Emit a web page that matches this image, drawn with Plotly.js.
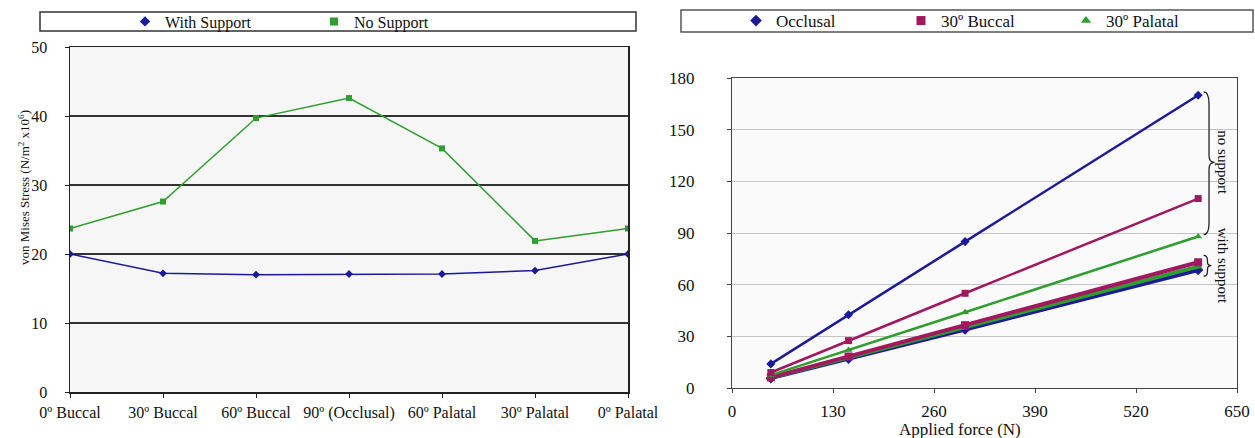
<!DOCTYPE html>
<html>
<head>
<meta charset="utf-8">
<script src="https://cdn.plot.ly/plotly-3.0.1.min.js"></script>
<style>html,body{margin:0;padding:0;background:#fff;}#chart{width:1255px;height:438px;}</style>
</head>
<body>
<div id="chart"></div>
<script>
// ---- Left chart data ----
const angleLabels = ["0º Buccal", "30º Buccal", "60º Buccal", "90º (Occlusal)", "60º Palatal", "30º Palatal", "0º Palatal"];
const angleIndex = [0, 1, 2, 3, 4, 5, 6];
const withSupport = [20.0, 17.2, 17.0, 17.1, 17.1, 17.6, 20.0];
const noSupport = [23.7, 27.6, 39.7, 42.6, 35.3, 21.9, 23.7];

// ---- Right chart data ----
const appliedForce = [50, 150, 300, 600];
const occlusalNo = [14, 42.5, 85, 170];
const buccalNo = [9, 27.5, 55, 110];
const palatalNo = [7.5, 22, 44, 88];
const occlusalWith = [5.7, 17, 34, 68.5];
const buccalWith = [6.2, 18.3, 36.5, 73];
const palatalWith = [6.0, 17.7, 35.3, 70.5];
const forceTicks = [0, 130, 260, 390, 520, 650];

const BLUE = "#1a1a9a", GREEN = "#2e9e2e", MAG = "#a1185e";
const W = 1255, H = 438;
const px = v => v / W, py = v => 1 - v / H;
const FONT = "Liberation Serif, Times New Roman, serif";

const traces = [
  // left
  {x: angleIndex, y: noSupport, mode: "lines+markers", xaxis: "x", yaxis: "y", showlegend: false,
   line: {color: GREEN, width: 1.5}, marker: {symbol: "square", size: 6, color: GREEN}},
  {x: angleIndex, y: withSupport, mode: "lines+markers", xaxis: "x", yaxis: "y", showlegend: false,
   line: {color: BLUE, width: 1.5}, marker: {symbol: "diamond", size: 6, color: BLUE}},
  // left legend entries
  {x: [null], y: [null], mode: "markers", name: "With Support", xaxis: "x", yaxis: "y", legend: "legend",
   marker: {symbol: "diamond", size: 8, color: BLUE}},
  {x: [null], y: [null], mode: "markers", name: "No Support", xaxis: "x", yaxis: "y", legend: "legend",
   marker: {symbol: "square", size: 8, color: GREEN}},
  // right - with support (thicker)
  {x: appliedForce, y: occlusalWith, mode: "lines+markers", xaxis: "x2", yaxis: "y2", showlegend: false,
   line: {color: BLUE, width: 4}, marker: {symbol: "diamond", size: 8, color: BLUE}},
  {x: appliedForce, y: palatalWith, mode: "lines+markers", xaxis: "x2", yaxis: "y2", showlegend: false,
   line: {color: GREEN, width: 4}, marker: {symbol: "triangle-up", size: 8, color: GREEN}},
  {x: appliedForce, y: buccalWith, mode: "lines+markers", xaxis: "x2", yaxis: "y2", showlegend: false,
   line: {color: MAG, width: 4}, marker: {symbol: "square", size: 8, color: MAG}},
  // right - no support
  {x: appliedForce, y: palatalNo, mode: "lines+markers", xaxis: "x2", yaxis: "y2", showlegend: false,
   line: {color: GREEN, width: 2.5}, marker: {symbol: "triangle-up", size: 7, color: GREEN}},
  {x: appliedForce, y: buccalNo, mode: "lines+markers", xaxis: "x2", yaxis: "y2", showlegend: false,
   line: {color: MAG, width: 2.5}, marker: {symbol: "square", size: 7, color: MAG}},
  {x: appliedForce, y: occlusalNo, mode: "lines+markers", xaxis: "x2", yaxis: "y2", showlegend: false,
   line: {color: BLUE, width: 2.5}, marker: {symbol: "diamond", size: 7, color: BLUE}},
  // right legend entries
  {x: [null], y: [null], mode: "markers", name: "Occlusal", xaxis: "x2", yaxis: "y2", legend: "legend2",
   marker: {symbol: "diamond", size: 9, color: BLUE}},
  {x: [null], y: [null], mode: "markers", name: "30º Buccal", xaxis: "x2", yaxis: "y2", legend: "legend2",
   marker: {symbol: "square", size: 9, color: MAG}},
  {x: [null], y: [null], mode: "markers", name: "30º Palatal", xaxis: "x2", yaxis: "y2", legend: "legend2",
   marker: {symbol: "triangle-up", size: 9, color: GREEN}}
];

const layout = {
  width: W, height: H,
  margin: {l: 0, r: 0, t: 0, b: 0, autoexpand: false},
  paper_bgcolor: "#ffffff",
  plot_bgcolor: "rgba(0,0,0,0)",
  font: {family: FONT, size: 14, color: "#111"},
  xaxis: {
    domain: [px(70), px(628)], range: [0, 6], anchor: "y",
    tickvals: angleIndex, ticktext: angleLabels,
    showgrid: false, zeroline: false, showline: true, linecolor: "#222", linewidth: 1.5, mirror: true,
    ticks: "outside", ticklen: 4, tickcolor: "#222", ticklabelstandoff: 1,
    tickfont: {family: FONT, size: 16, color: "#111"}
  },
  yaxis: {
    domain: [py(392), py(47)], range: [0, 50], anchor: "x",
    tickvals: [0, 10, 20, 30, 40, 50],
    showgrid: true, gridcolor: "#333", gridwidth: 1.5, zeroline: false,
    showline: true, linecolor: "#222", linewidth: 1.5, mirror: true,
    ticks: "outside", ticklen: 4, tickcolor: "#222", ticklabelstandoff: 14,
    tickfont: {family: FONT, size: 16, color: "#111"}
  },
  xaxis2: {
    domain: [px(732), px(1237)], range: [0, 650], anchor: "y2",
    tickvals: forceTicks,
    showgrid: false, zeroline: false, showline: true, linecolor: "#444", linewidth: 1.2, mirror: true,
    ticks: "outside", ticklen: 4, tickcolor: "#444", ticklabelstandoff: 3,
    tickfont: {family: FONT, size: 17, color: "#111"}
  },
  yaxis2: {
    domain: [py(388), py(78)], range: [0, 180], anchor: "x2",
    tickvals: [0, 30, 60, 90, 120, 150, 180],
    showgrid: true, gridcolor: "#c4c4c4", gridwidth: 1, zeroline: false,
    showline: true, linecolor: "#444", linewidth: 1.2, mirror: true,
    ticks: "outside", ticklen: 4, tickcolor: "#444", ticklabelstandoff: 29,
    tickfont: {family: FONT, size: 17, color: "#111"}
  },
  legend: {
    orientation: "h", x: px(125), y: py(21.5), xanchor: "left", yanchor: "middle",
    bgcolor: "rgba(0,0,0,0)", borderwidth: 0,
    entrywidth: 144, entrywidthmode: "pixels", itemwidth: 30,
    font: {family: FONT, size: 16, color: "#111"}
  },
  legend2: {
    orientation: "h", x: px(736), y: py(21), xanchor: "left", yanchor: "middle",
    bgcolor: "rgba(0,0,0,0)", borderwidth: 0,
    entrywidth: 120, entrywidthmode: "pixels", itemwidth: 30,
    font: {family: FONT, size: 17, color: "#111"}
  },
  shapes: [
    // plot backgrounds
    {type: "rect", xref: "x domain", yref: "y domain", x0: 0, x1: 1, y0: 0, y1: 1, layer: "below",
     fillcolor: "#f6f6f6", line: {width: 0}},
    {type: "rect", xref: "x2 domain", yref: "y2 domain", x0: 0, x1: 1, y0: 0, y1: 1, layer: "below",
     fillcolor: "#fafafa", line: {width: 0}},
    // legend boxes
    {type: "rect", xref: "paper", yref: "paper", x0: px(40), x1: px(636), y0: py(31), y1: py(12),
     line: {color: "#333", width: 1.5}, fillcolor: "rgba(0,0,0,0)"},
    {type: "rect", xref: "paper", yref: "paper", x0: px(681), x1: px(1253), y0: py(32), y1: py(10),
     line: {color: "#555", width: 1.5}, fillcolor: "rgba(0,0,0,0)"},
    // big brace (no support)
    {type: "path", xref: "x2", yref: "y2", line: {color: "#222", width: 1.3},
     path: "M607,172 Q614,172 614,165 L614,135 Q614,131 621,131 Q614,131 614,127 L614,96 Q614,89 607,89"},
    // small brace (with support)
    {type: "path", xref: "x2", yref: "y2", line: {color: "#222", width: 1.3},
     path: "M607,77 Q612,77 612,74 L612,73 Q612,71 617,71 Q612,71 612,69 L612,68 Q612,65 607,65"}
  ],
  annotations: [
    {xref: "x2", yref: "y2", x: 632, y: 131, text: "no support", textangle: 90, showarrow: false,
     font: {family: FONT, size: 15, color: "#111"}},
    {xref: "x2", yref: "y2", x: 632, y: 71, text: "with support", textangle: 90, showarrow: false,
     font: {family: FONT, size: 15, color: "#111"}},
    {xref: "paper", yref: "paper", x: px(960), y: py(429), text: "Applied force (N)", showarrow: false,
     xanchor: "center", yanchor: "middle", font: {family: FONT, size: 17, color: "#111"}},
    {xref: "paper", yref: "paper", x: px(24), y: py(188), text: "von Mises Stress (N/m<sup>2</sup> x10<sup>6</sup>)",
     textangle: -90, showarrow: false, xanchor: "center", yanchor: "middle",
     font: {family: FONT, size: 13, color: "#111"}}
  ]
};

Plotly.newPlot("chart", traces, layout, {displayModeBar: false, staticPlot: true});
</script>
</body>
</html>
